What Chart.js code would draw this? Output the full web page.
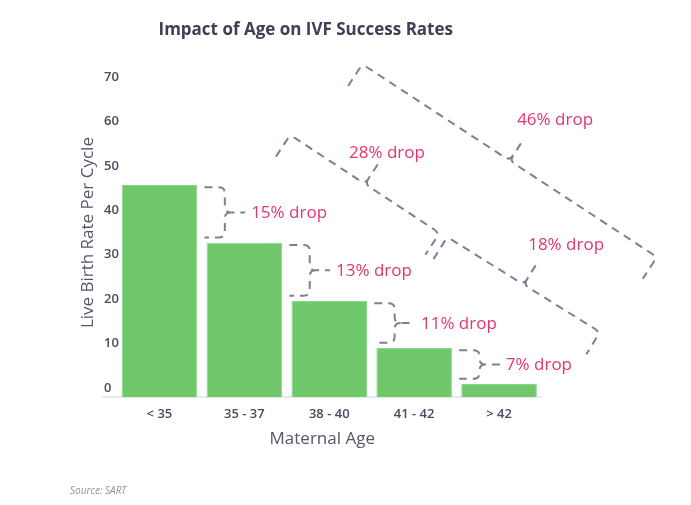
<!DOCTYPE html>
<html>
<head>
<meta charset="utf-8">
<script src="https://cdn.jsdelivr.net/npm/chart.js@4.4.1/dist/chart.umd.min.js"></script>
<style>
  html, body { margin: 0; padding: 0; background: #fff; }
</style>
</head>
<body>
<canvas id="ivf" width="691" height="505"></canvas>
<script>
const ageGroups = ['< 35', '35 - 37', '38 - 40', '41 - 42', '> 42'];
const liveBirthRate = [47.7, 34.7, 21.6, 11.0, 2.9];
const yTicks = [0, 10, 20, 30, 40, 50, 60, 70];

// drops between neighbouring groups
const stepDrops = ['15% drop', '13% drop', '11% drop', '7% drop'];
// wider drops, drawn as slanted braces: [category index, rate]
const spanDrops = ['28% drop', '18% drop', '46% drop'];
const spanStart = [[1.54, 59.0], [3.39, 36.0], [2.39, 74.9]];
const spanEnd = [[3.30, 36.9], [5.19, 14.6], [5.86, 31.5]];
const spanText = [[2.68, 54.9], [4.79, 34.2], [4.66, 62.3]];

const pink = '#e5356d';
const dashGrey = '#7c8096';

Chart.defaults.font.family = '"Open Sans", sans-serif';

// curly brace from p1 to p2, hooks on the left of the direction, tip on the right
function brace(ctx, p1, p2, h1, h2, tip) {
  const dx = p2.x - p1.x, dy = p2.y - p1.y, len = Math.hypot(dx, dy);
  const u = {x: dx / len, y: dy / len};
  const n = {x: -u.y, y: u.x};
  const m = {x: (p1.x + p2.x) / 2, y: (p1.y + p2.y) / 2};
  const r = 6;
  const at = (p, a, b) => [p.x + u.x * a + n.x * b, p.y + u.y * a + n.y * b];
  ctx.beginPath();
  ctx.moveTo(...at(p1, 0, h1));
  ctx.lineTo(...at(p1, 0, r));
  ctx.quadraticCurveTo(p1.x, p1.y, ...at(p1, r, 0));
  ctx.lineTo(...at(m, -r, 0));
  ctx.quadraticCurveTo(m.x, m.y, ...at(m, 0, -r));
  ctx.lineTo(...at(m, 0, -tip));
  ctx.moveTo(...at(m, 0, -r));
  ctx.quadraticCurveTo(m.x, m.y, ...at(m, r, 0));
  ctx.lineTo(...at(p2, -r, 0));
  ctx.quadraticCurveTo(p2.x, p2.y, ...at(p2, 0, r));
  ctx.lineTo(...at(p2, 0, h2));
  ctx.stroke();
}

const dropNotes = {
  id: 'dropNotes',
  afterDraw(chart) {
    const ctx = chart.ctx;
    const xs = chart.scales.x, ys = chart.scales.y;
    const pt = (a, b) => ({x: xs.getPixelForValue(a), y: ys.getPixelForValue(b)});
    ctx.save();
    ctx.strokeStyle = dashGrey;
    ctx.lineWidth = 2;
    ctx.setLineDash([8, 6]);
    ctx.font = '17px "Open Sans"';
    ctx.fillStyle = pink;
    ctx.textBaseline = 'middle';

    stepDrops.forEach((label, i) => {
      const top = liveBirthRate[i] - 0.5;
      const bottom = liveBirthRate[i + 1] + 1.2;
      const p1 = pt(i + 0.77, top), p2 = pt(i + 0.77, bottom);
      const hook = p1.x - xs.getPixelForValue(i + 0.53);
      const textX = xs.getPixelForValue(i + 1.08);
      brace(ctx, p1, p2, hook, hook, textX - 6 - p1.x);
      ctx.textAlign = 'left';
      ctx.fillText(label, textX, (p1.y + p2.y) / 2 + 1);
    });

    spanDrops.forEach((label, i) => {
      const p1 = pt(spanStart[i][0], spanStart[i][1]);
      const p2 = pt(spanEnd[i][0], spanEnd[i][1]);
      brace(ctx, p1, p2, 26, 26, 26);
      const t = pt(spanText[i][0], spanText[i][1]);
      ctx.textAlign = 'center';
      ctx.fillText(label, t.x, t.y);
    });
    ctx.restore();
  }
};

new Chart(document.getElementById('ivf'), {
  type: 'bar',
  data: {
    datasets: [{
      data: liveBirthRate.map((v, i) => ({x: i, y: v})),
      backgroundColor: '#6fc96b',
      borderColor: '#8ad586',
      borderWidth: 1,
      categoryPercentage: 1,
      barPercentage: 0.89
    }]
  },
  options: {
    responsive: false,
    animation: false,
    layout: { padding: { left: 70, right: 149.5, top: 0, bottom: 0 } },
    plugins: {
      legend: { display: false },
      tooltip: { enabled: false },
      title: {
        display: true,
        text: 'Impact of Age on IVF Success Rates',
        color: '#3d4154',
        font: { size: 17, weight: 'bold' },
        padding: { top: 19.8, bottom: 28 }
      },
      subtitle: {
        display: true,
        position: 'bottom',
        align: 'start',
        text: 'Source: SART',
        color: '#8e91a2',
        font: { size: 10, style: 'italic' },
        padding: { top: 0, bottom: 8 }
      }
    },
    scales: {
      x: {
        type: 'linear',
        offset: false,
        min: -0.665,
        max: 4.5,
        grid: { display: false },
        border: { display: true, color: '#e9e9ec', width: 2 },
        afterBuildTicks: s => { s.ticks = ageGroups.map((_, i) => ({value: i})); },
        afterFit: s => { s.height = 88; },
        ticks: {
          callback: v => ageGroups[v],
          color: '#464b5d',
          font: { size: 13, weight: '600' },
          padding: 1,
          maxRotation: 0,
          autoSkip: false
        },
        title: {
          display: true,
          text: 'Maternal Age',
          color: '#525769',
          font: { size: 17 },
          padding: { top: 0, bottom: 35.8 }
        }
      },
      y: {
        min: 0,
        max: 74,
        grid: { display: false },
        border: { display: false },
        afterBuildTicks: s => { s.ticks = yTicks.map(v => ({value: v})); },
        afterFit: s => { s.width = 33; },
        ticks: {
          mirror: true,
          padding: 1,
          labelOffset: -9,
          color: '#464b5d',
          font: { size: 13, weight: '600' }
        },
        title: {
          display: true,
          text: 'Live Birth Rate Per Cycle',
          color: '#525769',
          font: { size: 17 },
          padding: { top: 7.8, bottom: 0 }
        }
      }
    }
  },
  plugins: [dropNotes]
});
</script>
</body>
</html>
